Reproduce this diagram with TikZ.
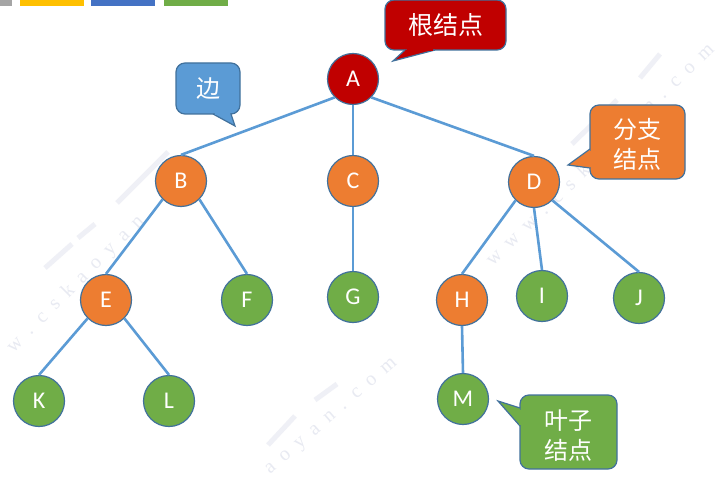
\documentclass[tikz,border=0pt]{standalone}
\usepackage{fontspec}
\setmainfont{Liberation Serif}
\setsansfont{Carlito}
\newfontfamily\cjk{Noto Sans CJK SC}
\definecolor{rootred}{HTML}{C00000}
\definecolor{branchorange}{HTML}{ED7D31}
\definecolor{leafgreen}{HTML}{70AD47}
\definecolor{edgeblue}{HTML}{5B9BD5}
\definecolor{rimblue}{HTML}{41719C}
\definecolor{barblue}{HTML}{4472C4}
\definecolor{baryellow}{HTML}{FFC000}
\definecolor{bargray}{HTML}{A5A5A5}
\definecolor{markgray}{HTML}{E8EAF2}
\definecolor{pengray}{HTML}{EFF0F6}
\tikzset{
treenode/.style={circle,draw=rimblue,line width=1.2pt,minimum size=51pt,inner sep=0pt,text=white,font=\sffamily\fontsize{24}{26}\selectfont},
treeedge/.style={draw=edgeblue,line width=2.6pt},
notebox/.style={draw=rimblue,line width=1.2pt,rounded corners=9pt,text=white,align=center,inner sep=0pt,font=\cjk\fontsize{24}{30}\selectfont},
notetip/.style={draw=rimblue,line width=1.2pt},
markword/.style={text=markgray,inner sep=0pt,font=\rmfamily\fontsize{20}{24}\selectfont},
markpen/.style={draw=pengray,line width=5pt}
}
\begin{document}
\begin{tikzpicture}[x=1pt,y=-1pt]
\useasboundingbox (0,0) rectangle (715,481);
\fill [white] (0,0) rectangle (715,481);
% faint marks behind
\node (markleft) [markword,rotate=45,anchor=west] at (10,350) {w~ .~ c~ s~ k~ a~ o~ y~ a~ n};
\node (markright) [markword,rotate=44,anchor=west] at (488,262) {w~ w~ w~ .~ c~ s~ k};
\node (markend) [markword,rotate=44,anchor=east] at (712,47) {a~ n~ .~ c~ o~ m};
\node (markbottom) [markword,rotate=41,anchor=east] at (396,362) {a~ o~ y~ a~ n~ .~ c~ o~ m};
\draw [markpen] (45,268) -- (72,244);
\draw [markpen] (78,238) -- (95,224);
\draw [markpen] (117,203) -- (168,152);
\draw [markpen] (268,445) -- (295,416);
\draw [markpen] (315,400) -- (337,384);
\draw [markpen] (572,144) -- (617,100);
\draw [markpen] (640,78) -- (660,54);
% bars at the top
\fill [bargray] (0,0) rectangle (12,6);
\fill [baryellow] (20,0) rectangle (84,6);
\fill [barblue] (91,0) rectangle (155,6);
\fill [leafgreen] (164,0) rectangle (228,6);
% tree
\node (A) [treenode,fill=rootred] at (353,79) {A};
\node (B) [treenode,fill=branchorange] at (181,181) {B};
\node (C) [treenode,fill=branchorange] at (353,181) {C};
\node (D) [treenode,fill=branchorange] at (534,182) {D};
\node (E) [treenode,fill=branchorange] at (106,300) {E};
\node (F) [treenode,fill=leafgreen] at (247,300) {F};
\node (G) [treenode,fill=leafgreen] at (353,297) {G};
\node (H) [treenode,fill=branchorange] at (462,300) {H};
\node (I) [treenode,fill=leafgreen] at (542,296) {I};
\node (J) [treenode,fill=leafgreen] at (639,298) {J};
\node (K) [treenode,fill=leafgreen] at (39,401) {K};
\node (L) [treenode,fill=leafgreen] at (169,401) {L};
\node (M) [treenode,fill=leafgreen] at (463,399) {M};
\draw [treeedge] (A.south west) -- (B.north);
\draw [treeedge] (A.south) -- (C.north);
\draw [treeedge] (A.south east) -- (D.north);
\draw [treeedge] (B.south west) -- (E.north);
\draw [treeedge] (B.south east) -- (F.north);
\draw [treeedge] (C.south) -- (G.north);
\draw [treeedge] (D.south west) -- (H.north);
\draw [treeedge] (D.south) -- (I.north);
\draw [treeedge] (D.south east) -- (J.north);
\draw [treeedge] (E.south west) -- (K.north);
\draw [treeedge] (E.south east) -- (L.north);
\draw [treeedge] (H.south) -- (M.north);
% speech bubbles
\node (edgenote) [notebox,fill=edgeblue,minimum width=64pt,minimum height=51pt] at (208,88.5) {边};
\draw [notetip,fill=edgeblue] (213,114) -- (235,126) -- (231,114);
\draw [edgeblue,line width=1.6pt] (214.5,114) -- (230,114);
\node (rootnote) [notebox,fill=rootred,minimum width=121pt,minimum height=50pt,font=\cjk\fontsize{25}{30}\selectfont] at (445.5,25) {根结点};
\draw [notetip,fill=rootred] (405,50) -- (393,61) -- (435,50);
\draw [rootred,line width=1.6pt] (406.5,50) -- (433,50);
\node (branchnote) [notebox,fill=branchorange,minimum width=95pt,minimum height=74pt] at (637.5,142) {\rule{0pt}{25pt}分支\\结点};
\draw [notetip,fill=branchorange] (590,149) -- (568,165) -- (590,168);
\draw [branchorange,line width=1.6pt] (590,151) -- (590,167);
\node (leafnote) [notebox,fill=leafgreen,minimum width=97pt,minimum height=74pt] at (568.5,432) {\rule{0pt}{27pt}叶子\\结点};
\draw [notetip,fill=leafgreen] (520,408) -- (498,401) -- (520,426);
\draw [leafgreen,line width=1.6pt] (520,409.5) -- (520,424.5);
\end{tikzpicture}
\end{document}
